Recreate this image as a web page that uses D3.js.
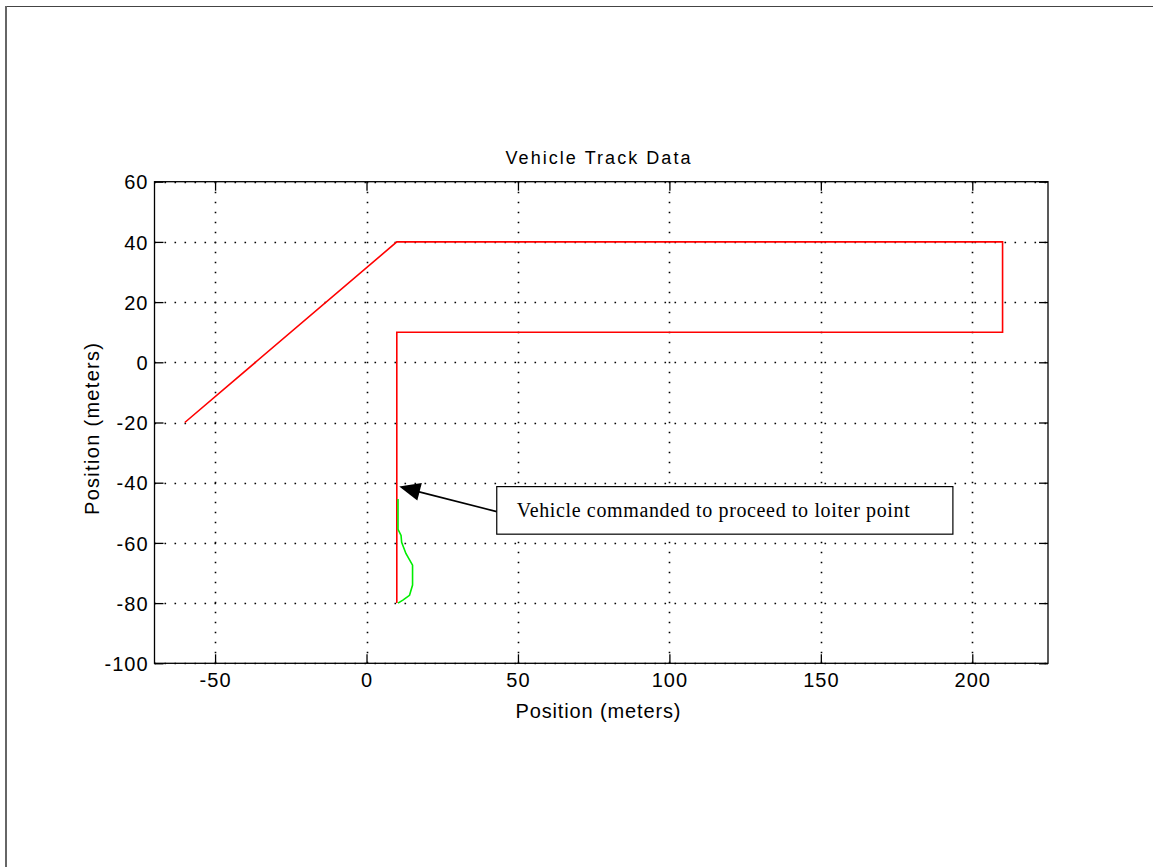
<!DOCTYPE html>
<html>
    <head>
        <meta charset="utf-8">
        <title>Vehicle Track Data</title>
        <style>
            body { margin: 0; background: white; }
            text { font-family: 'Liberation Sans', Arial, sans-serif; }
            .tick text { font-size: 20px; letter-spacing: 1px; fill: black; }
            .note { font-family: 'Liberation Serif', 'Times New Roman', serif; font-size: 20px; }
        </style>
        <script src="https://d3js.org/d3.v7.min.js"></script>
        <script>
            var xTicks = [-50, 0, 50, 100, 150, 200];
            var yTicks = [-100, -80, -60, -40, -20, 0, 20, 40, 60];

            // commanded track (red)
            var trackX = [-60, 10, 210, 210, 10, 10];
            var trackY = [-20, 40, 40, 10, 10, -80];

            // actual vehicle path (green)
            var pathX = [10.4, 10.4, 11.4, 11.6, 13.0, 15.2, 15.2, 14.2, 12.0, 10.4];
            var pathY = [-45.4, -55.5, -57.5, -59.8, -63.5, -67.4, -74.0, -77.4, -79.0, -80.0];

            var noteText = "Vehicle commanded to proceed to loiter point";
            var noteBox = {x0: 43, x1: 193.6, y0: -41.3, y1: -57.1};
            var noteTip = [10.8, -41.3];

            function run() {
                var svg = d3.select("#chart").append("svg")
                    .attr("width", 1153)
                    .attr("height", 867);

                svg.append("rect").attr("width", 1153).attr("height", 867).attr("fill", "white");

                // page frame
                svg.append("line").attr("x1", 5).attr("x2", 1153).attr("y1", 6.5).attr("y2", 6.5)
                    .attr("stroke", "#444").attr("stroke-width", 1.2);
                svg.append("line").attr("x1", 6).attr("x2", 6).attr("y1", 6).attr("y2", 867)
                    .attr("stroke", "#666").attr("stroke-width", 2);

                var left = 154.5, right = 1048, top = 181.7, bottom = 663.3;
                var x = d3.scaleLinear().domain([-70, 225]).range([left, right]);
                var y = d3.scaleLinear().domain([-100, 60]).range([bottom, top]);
                var fmt = d => String(d);

                // grid
                var grid = svg.append("g").attr("stroke", "black").attr("stroke-width", 1.6)
                    .attr("stroke-dasharray", "1.6,8.4");
                grid.selectAll(".gx").data(xTicks).enter().append("line")
                    .attr("x1", d => Math.round(x(d)) + 0.5).attr("x2", d => Math.round(x(d)) + 0.5)
                    .attr("y1", top).attr("y2", bottom);
                grid.selectAll(".gy").data(yTicks).enter().append("line")
                    .attr("y1", d => Math.round(y(d)) + 0.5).attr("y2", d => Math.round(y(d)) + 0.5)
                    .attr("x1", left).attr("x2", right);

                // axes, ticks pointing inward
                svg.append("g").attr("transform", "translate(0," + bottom + ")")
                    .call(d3.axisBottom(x).tickValues(xTicks).tickFormat(fmt).tickSizeInner(-9).tickSizeOuter(0).tickPadding(10));
                var ay = svg.append("g").attr("transform", "translate(" + left + ",0)")
                    .call(d3.axisLeft(y).tickValues(yTicks).tickFormat(fmt).tickSizeInner(-9).tickSizeOuter(0).tickPadding(6));
                svg.append("g").attr("transform", "translate(0," + top + ")")
                    .call(d3.axisTop(x).tickValues(xTicks).tickSizeInner(-9).tickSizeOuter(0).tickFormat(""));
                svg.append("g").attr("transform", "translate(" + right + ",0)")
                    .call(d3.axisRight(y).tickValues(yTicks).tickSizeInner(-9).tickSizeOuter(0).tickFormat(""));
                svg.selectAll(".domain").remove();
                svg.selectAll(".tick line").attr("stroke", "black").attr("stroke-width", 1.3);
                ay.selectAll(".tick text").attr("dy", "0.36em");

                svg.append("rect").attr("x", left).attr("y", top)
                    .attr("width", right - left).attr("height", bottom - top)
                    .attr("fill", "none").attr("stroke", "black").attr("stroke-width", 1.3);

                // tracks
                var line = d3.line().x(d => x(d[0])).y(d => y(d[1]));
                svg.append("path").datum(d3.zip(trackX, trackY)).attr("d", line)
                    .attr("fill", "none").attr("stroke", "#ff0000").attr("stroke-width", 1.6);
                svg.append("path").datum(d3.zip(pathX, pathY)).attr("d", line)
                    .attr("fill", "none").attr("stroke", "#00ee00").attr("stroke-width", 1.6);

                // annotation
                var bx0 = x(noteBox.x0), bx1 = x(noteBox.x1), by0 = y(noteBox.y0), by1 = y(noteBox.y1);
                var tx = x(noteTip[0]), ty = y(noteTip[1]);
                var sx = bx0, sy = by0 + 25;
                svg.append("line").attr("x1", sx).attr("y1", sy).attr("x2", tx + 15).attr("y2", ty + 4)
                    .attr("stroke", "black").attr("stroke-width", 1.6);
                var ang = Math.atan2(sy - ty, sx - tx);
                var len = 21, half = 9;
                var bxp = tx + len * Math.cos(ang), byp = ty + len * Math.sin(ang);
                var px = -Math.sin(ang) * half, py = Math.cos(ang) * half;
                svg.append("path")
                    .attr("d", "M" + tx + "," + ty + "L" + (bxp + px) + "," + (byp + py) + "L" + (bxp - px) + "," + (byp - py) + "Z")
                    .attr("fill", "black");
                svg.append("rect").attr("x", bx0).attr("y", by0)
                    .attr("width", bx1 - bx0).attr("height", by1 - by0)
                    .attr("fill", "white").attr("stroke", "black").attr("stroke-width", 1.2);
                svg.append("text").attr("class", "note")
                    .attr("x", bx0 + 20).attr("y", by0 + 30)
                    .attr("textLength", 393).attr("lengthAdjust", "spacing")
                    .text(noteText);

                // labels
                svg.append("text").attr("x", 598).attr("y", 164).attr("text-anchor", "middle")
                    .attr("font-size", 18).attr("textLength", 185).attr("lengthAdjust", "spacing")
                    .text("Vehicle Track Data");
                svg.append("text").attr("x", 598).attr("y", 718).attr("text-anchor", "middle")
                    .attr("font-size", 20).attr("textLength", 165).attr("lengthAdjust", "spacing")
                    .text("Position (meters)");
                svg.append("text").attr("transform", "translate(99,429) rotate(-90)").attr("text-anchor", "middle")
                    .attr("font-size", 20).attr("textLength", 172).attr("lengthAdjust", "spacing")
                    .text("Position (meters)");
            }
        </script>
    </head>
    <body onload="run()">
        <div id="chart"></div>
    </body>
</html>
